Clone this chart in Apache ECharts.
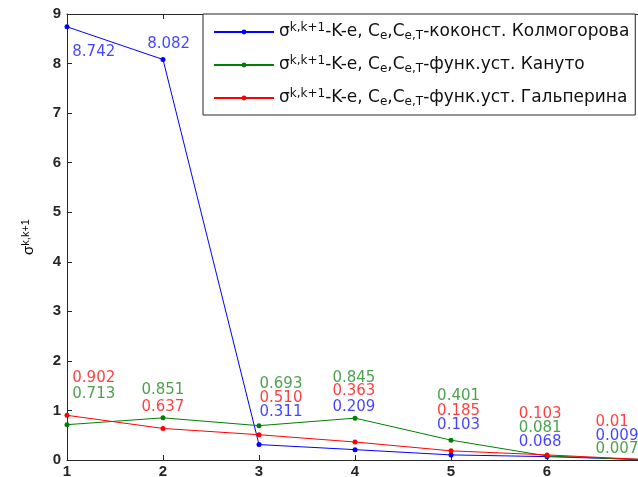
<!DOCTYPE html>
<html><head><meta charset="utf-8">
<script src="https://cdn.jsdelivr.net/npm/echarts@6/dist/echarts.min.js"></script>
<style>html,body{margin:0;padding:0;background:#fff}#c{width:638px;height:477px}</style>
</head><body><div id="c"></div>
<script>
const xValues = [1, 2, 3, 4, 5, 6, 7];
const kolmogorov = [8.742, 8.082, 0.311, 0.209, 0.103, 0.068, 0.009];
const kanuto = [0.713, 0.851, 0.693, 0.845, 0.401, 0.081, 0.007];
const galperin = [0.902, 0.637, 0.510, 0.363, 0.185, 0.103, 0.01];
const kolmogorovText = ['8.742', '8.082', '0.311', '0.209', '0.103', '0.068', '0.009'];
const kanutoText = ['0.713', '0.851', '0.693', '0.845', '0.401', '0.081', '0.007'];
const galperinText = ['0.902', '0.637', '0.510', '0.363', '0.185', '0.103', '0.01'];
// text() anchor positions in data units (left edge, vertical middle)
const kolmogorovLabelX = [1.05, 1.83, 3.0, 3.76, 4.85, 5.70, 6.50];
const kolmogorovLabelY = [8.23, 8.40, 0.97, 1.07, 0.70, 0.36, 0.48];
const kanutoLabelX = [1.05, 1.77, 3.0, 3.76, 4.85, 5.70, 6.50];
const kanutoLabelY = [1.33, 1.41, 1.53, 1.65, 1.29, 0.64, 0.22];
const galperinLabelX = [1.05, 1.77, 3.0, 3.76, 4.85, 5.70, 6.50];
const galperinLabelY = [1.65, 1.07, 1.25, 1.39, 0.99, 0.93, 0.77];
const yTicks = [0, 9, 1];
const names = ['Колмогорова', 'Кануто', 'Гальперина'];
const legendText = {
  'Колмогорова': '{n|σ}{sup|k,k+1}{n|-K-e, C}{sub|e}{n|,C}{sub|e,T}{n|-коконст. Колмогорова}',
  'Кануто': '{n|σ}{sup|k,k+1}{n|-K-e, C}{sub|e}{n|,C}{sub|e,T}{n|-функ.уст. Кануто}',
  'Гальперина': '{n|σ}{sup|k,k+1}{n|-K-e, C}{sub|e}{n|,C}{sub|e,T}{n|-функ.уст. Гальперина}'
};
const colors = ['#0000ff', '#008000', '#ff0000'];
const textColors = ['#1515ff', '#228a22', '#ff1010'];

const FONT = 'Liberation Sans';
const LFONT = 'DejaVu Sans';

function lineSeries(name, vals, color) {
  return {
    name, type: 'line', data: xValues.map((x, i) => [x, vals[i]]),
    symbol: 'circle', symbolSize: 5, showSymbol: true,
    lineStyle: { color, width: 1 }, itemStyle: { color },
    animation: false, z: 3
  };
}
function labelSeries(lx, ly, txt, color) {
  return {
    name: 'lbl' + color, type: 'scatter',
    data: lx.map((x, i) => [x, ly[i], txt[i]]),
    symbol: 'circle', symbolSize: 1, itemStyle: { color: 'rgba(0,0,0,0)' },
    label: { show: true, position: 'right', distance: 0, formatter: p => p.data[2],
      color, fontSize: 15, fontFamily: LFONT },
    labelLayout: { hideOverlap: false },
    animation: false, silent: true, z: 4
  };
}

const chart = echarts.init(document.getElementById('c'));
const axisCommon = {
  type: 'value', min: 1, max: 7, interval: 1,
  axisLine: { show: true, onZero: false, lineStyle: { color: '#262626', width: 1 } },
  axisTick: { show: true, inside: true, length: 5, lineStyle: { color: '#262626' } },
  splitLine: { show: false }
};
chart.setOption({
  backgroundColor: '#ffffff',
  animation: false,
  grid: { left: 67, top: 14, width: 576, height: 446, containLabel: false, outerBoundsMode: 'none' },
  xAxis: [
    Object.assign({}, axisCommon, { position: 'bottom',
      axisLabel: { show: true, margin: 4, color: '#262626', fontSize: 15, fontWeight: 'bold', fontFamily: FONT } }),
    Object.assign({}, axisCommon, { position: 'top', axisLabel: { show: false } })
  ],
  yAxis: [
    Object.assign({}, axisCommon, { min: yTicks[0], max: yTicks[1], interval: yTicks[2], position: 'left',
      axisLabel: { show: true, margin: 6, color: '#262626', fontSize: 15, fontWeight: 'bold', fontFamily: FONT },
      name: '{n|σ}{sup|k,k+1}', nameLocation: 'middle', nameRotate: 90, nameGap: 29,
      nameTextStyle: { rich: {
        n: { fontSize: 15, fontFamily: FONT, color: '#000', lineHeight: 18 },
        sup: { fontSize: 11, fontFamily: FONT, color: '#000', verticalAlign: 'top', lineHeight: 11 }
      } } }),
    Object.assign({}, axisCommon, { min: yTicks[0], max: yTicks[1], interval: yTicks[2], position: 'right', axisLabel: { show: false } })
  ],
  legend: {
    orient: 'vertical', left: 203, top: 14,
    padding: [8, 6, 7, 10], itemGap: 13, itemWidth: 60, itemHeight: 6,
    backgroundColor: '#ffffff', borderColor: '#262626', borderWidth: 1, borderRadius: 0,
    data: names, formatter: n => legendText[n], z: 10,
    textStyle: { rich: {
      n: { fontSize: 17, fontFamily: LFONT, color: '#111', lineHeight: 20 },
      sup: { fontSize: 12, fontFamily: LFONT, color: '#111', verticalAlign: 'top', lineHeight: 12 },
      sub: { fontSize: 12, fontFamily: LFONT, color: '#111', verticalAlign: 'bottom', lineHeight: 12 }
    } }
  },
  series: [
    lineSeries(names[0], kolmogorov, colors[0]),
    lineSeries(names[1], kanuto, colors[1]),
    lineSeries(names[2], galperin, colors[2]),
    labelSeries(kolmogorovLabelX, kolmogorovLabelY, kolmogorovText, textColors[0]),
    labelSeries(kanutoLabelX, kanutoLabelY, kanutoText, textColors[1]),
    labelSeries(galperinLabelX, galperinLabelY, galperinText, textColors[2])
  ]
});
</script></body></html>
